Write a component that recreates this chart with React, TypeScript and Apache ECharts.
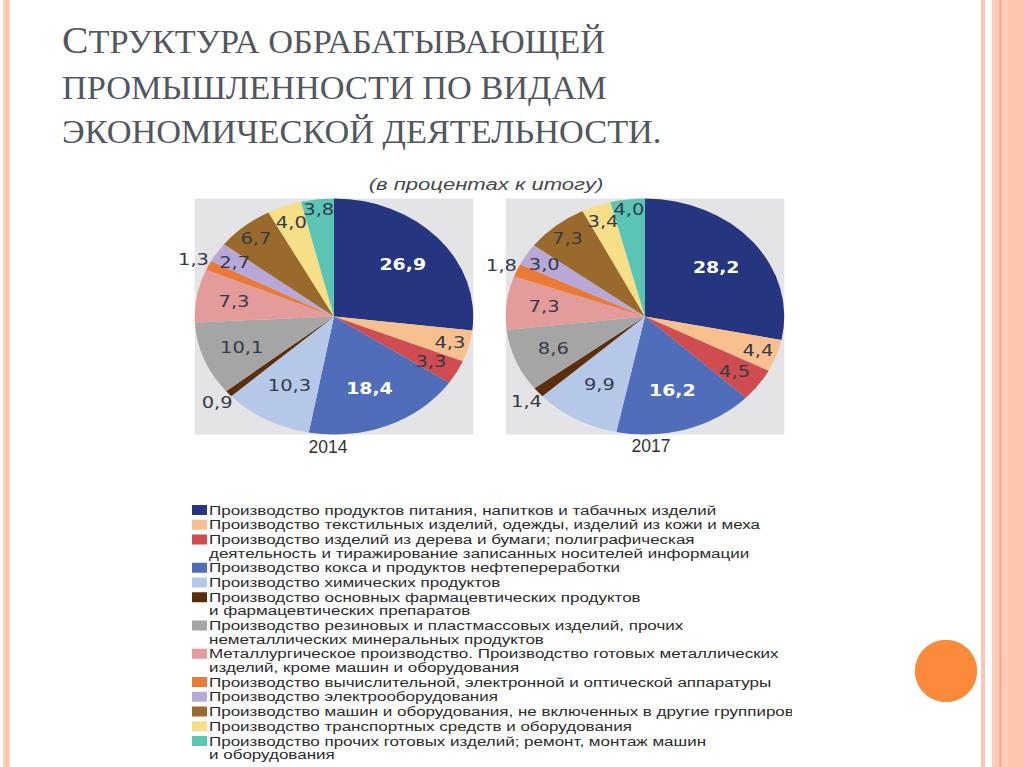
import React, { useEffect, useRef } from 'react';
import * as echarts from 'echarts';

const categories = [
  'Производство продуктов питания, напитков и табачных изделий',
  'Производство текстильных изделий, одежды, изделий из кожи и меха',
  'Производство изделий из дерева и бумаги; полиграфическая\nдеятельность и тиражирование записанных носителей информации',
  'Производство кокса и продуктов нефтепереработки',
  'Производство химических продуктов',
  'Производство основных фармацевтических продуктов\nи фармацевтических препаратов',
  'Производство резиновых и пластмассовых изделий, прочих\nнеметаллических минеральных продуктов',
  'Металлургическое производство. Производство готовых металлических\nизделий, кроме машин и оборудования',
  'Производство вычислительной, электронной и оптической аппаратуры',
  'Производство электрооборудования',
  'Производство машин и оборудования, не включенных в другие группировки',
  'Производство транспортных средств и оборудования',
  'Производство прочих готовых изделий; ремонт, монтаж машин\nи оборудования',
];

const values2014 = [26.9, 4.3, 3.3, 18.4, 10.3, 0.9, 10.1, 7.3, 1.3, 2.7, 6.7, 4.0, 3.8];
const values2017 = [28.2, 4.4, 4.5, 16.2, 9.9, 1.4, 8.6, 7.3, 1.8, 3.0, 7.3, 3.4, 4.0];
const years = ['2014', '2017'];

const titleLines = ['ПРОМЫШЛЕННОСТИ ПО ВИДАМ', 'ЭКОНОМИЧЕСКОЙ ДЕЯТЕЛЬНОСТИ.'];
const titleFirst = 'С';
const titleFirstRest = 'ТРУКТУРА ОБРАБАТЫВАЮЩЕЙ';
const subtitle = '(в процентах к итогу)';

// styling
const sliceColors = [
  '#25357F', '#F9C08F', '#CF4C50', '#4F6DB9', '#B6C8E8', '#5B2E0C', '#A5A5A5',
  '#E39B9B', '#E97A37', '#B8A8D8', '#9A6A2C', '#F6DF86', '#5BC5B5',
];
const labelRadiusFactors = [0.66, 0.86, 0.79, 0.66, 0.66, 1.11, 0.71, 0.73, 1.12, 0.85, 0.87, 0.86, 0.92];
const whiteLabelIdx = [0, 3];

const SX = 1.18;
const PIE_R = 118;
const pieCenters: number[][] = [[334 / SX, 316.5], [645 / SX, 316.5]];
const yearPos = [[328, 447], [651, 446]];
const LEGEND_CLIP_X = 792;

const fmt = (v: number) => v.toFixed(1).replace('.', ',');

function pieSeries(values: number[], center: number[]) {
  const total = values.reduce((a, b) => a + b, 0);
  const mids: number[] = [];
  let acc = 0;
  values.forEach((v) => {
    mids.push(acc + v / 2);
    acc += v;
  });
  return {
    type: 'pie',
    center,
    radius: PIE_R,
    startAngle: 90,
    clockwise: true,
    silent: true,
    avoidLabelOverlap: false,
    itemStyle: { borderWidth: 0 },
    label: {
      show: true,
      position: 'inside',
      formatter: (p: any) => fmt(p.value),
      fontFamily: 'DejaVu Sans',
      fontSize: 16.5,
      color: '#343a48',
    },
    labelLine: { show: false },
    emphasis: { disabled: true },
    labelLayout: (p: any) => {
      const i = p.dataIndex;
      const ang = ((90 - (360 * mids[i]) / total) * Math.PI) / 180;
      const r = PIE_R * labelRadiusFactors[i];
      return {
        x: center[0] + r * Math.cos(ang),
        y: center[1] - r * Math.sin(ang),
        align: 'center',
        verticalAlign: 'middle',
      };
    },
    data: values.map((v, i) => ({
      name: categories[i],
      value: v,
      itemStyle: { color: sliceColors[i] },
      label: whiteLabelIdx.includes(i) ? { color: '#ffffff', fontWeight: 'bold', fontSize: 16 } : undefined,
    })),
  };
}

function buildMainOption() {
  const els: any[] = [];
  // decorations
  els.push({ type: 'rect', shape: { x: 3, y: 0, width: 7, height: 767 }, style: { fill: '#FDD2C0' } });
  els.push({ type: 'rect', shape: { x: 5.5, y: 0, width: 3.5, height: 767 }, style: { fill: '#FBC3AB' } });
  els.push({ type: 'rect', shape: { x: 981, y: 0, width: 4, height: 767 }, style: { fill: '#F9C7B4' } });
  els.push({ type: 'rect', shape: { x: 992, y: 0, width: 32, height: 767 }, style: { fill: '#FDCBB6' } });
  els.push({ type: 'rect', shape: { x: 1008, y: 0, width: 16, height: 767 }, style: { fill: '#FCC5AE' } });
  els.push({ type: 'rect', shape: { x: 999.5, y: 0, width: 1.5, height: 767 }, style: { fill: '#F3A078' } });
  els.push({ type: 'circle', shape: { cx: 946, cy: 671, r: 31 }, style: { fill: '#FB8A3A' } });

  // title
  const tFont = 'Liberation Serif';
  const tColor = '#51565F';
  els.push({ type: 'text', x: 62, y: 39.4, scaleX: 1.04, style: { text: titleFirst, fontFamily: tFont, fontSize: 38, fill: tColor, verticalAlign: 'middle' } });
  els.push({ type: 'text', x: 88.5, y: 42, scaleX: 1.04, style: { text: titleFirstRest, fontFamily: tFont, fontSize: 33, fill: tColor, verticalAlign: 'middle' } });
  els.push({ type: 'text', x: 62, y: 87.5, scaleX: 1.04, style: { text: titleLines[0], fontFamily: tFont, fontSize: 33, fill: tColor, verticalAlign: 'middle' } });
  els.push({ type: 'text', x: 62, y: 131.5, scaleX: 1.04, style: { text: titleLines[1], fontFamily: tFont, fontSize: 33, fill: tColor, verticalAlign: 'middle' } });

  // subtitle
  els.push({ type: 'text', x: 486, y: 185, scaleX: 1.38, style: { text: subtitle, fontFamily: 'Liberation Sans', fontStyle: 'italic', fontSize: 16, fill: '#45484f', align: 'center', verticalAlign: 'middle' } });

  // years
  years.forEach((yr, i) => {
    els.push({ type: 'text', x: yearPos[i][0], y: yearPos[i][1], style: { text: yr, fontFamily: 'Liberation Sans', fontSize: 17.5, fill: '#333333', align: 'center', verticalAlign: 'middle' } });
  });

  // legend
  const lh = 13.5;
  let y = 510;
  categories.forEach((name, i) => {
    const lines = name.split('\n').length;
    els.push({ type: 'rect', shape: { x: 192, y: y - 5, width: 15, height: 10 }, style: { fill: sliceColors[i] } });
    els.push({
      type: 'text', x: 209, y: y - lh / 2, scaleX: 1.36,
      style: {
        text: name, fontFamily: 'Liberation Sans', fontSize: 12.5, lineHeight: lh, fill: '#2b2b2b',
        verticalAlign: 'top',
      },
    });
    y += lines * lh + 1.25;
  });
  // the source picture is cropped at its right edge: hide legend text beyond it
  els.push({ type: 'rect', shape: { x: LEGEND_CLIP_X, y: 500, width: 110, height: 267 }, style: { fill: '#ffffff' }, z: 10 });
  // keep circle above mask
  els.push({ type: 'circle', shape: { cx: 946, cy: 671, r: 31 }, style: { fill: '#FB8A3A' }, z: 11 });

  return { animation: false, graphic: { elements: els } };
}

function buildPieOption() {
  const els = pieCenters.map((c) => ({
    type: 'rect', z: 0,
    shape: { x: c[0] - PIE_R, y: c[1] - PIE_R, width: PIE_R * 2, height: PIE_R * 2 },
    style: { fill: '#E4E4E7' },
  }));
  return {
    animation: false,
    graphic: { elements: els },
    series: [pieSeries(values2014, pieCenters[0]), pieSeries(values2017, pieCenters[1])],
  };
}

export default function App() {
  const mainRef = useRef<HTMLDivElement>(null);
  const pieRef = useRef<HTMLDivElement>(null);
  useEffect(() => {
    const main = echarts.init(mainRef.current!, null, { renderer: 'svg' });
    main.setOption(buildMainOption() as any);
    const pie = echarts.init(pieRef.current!, null, { renderer: 'svg' });
    pie.setOption(buildPieOption() as any);
    return () => {
      main.dispose();
      pie.dispose();
    };
  }, []);
  return (
    <div style={{ position: 'fixed', left: 0, top: 0, width: 1024, height: 767, overflow: 'hidden', background: '#ffffff' }}>
      <div ref={mainRef} style={{ position: 'absolute', left: 0, top: 0, width: 1024, height: 767 }} />
      <div
        ref={pieRef}
        style={{ position: 'absolute', left: 0, top: 0, width: 671, height: 470, transform: `scaleX(${SX})`, transformOrigin: '0 0' }}
      />
    </div>
  );
}
